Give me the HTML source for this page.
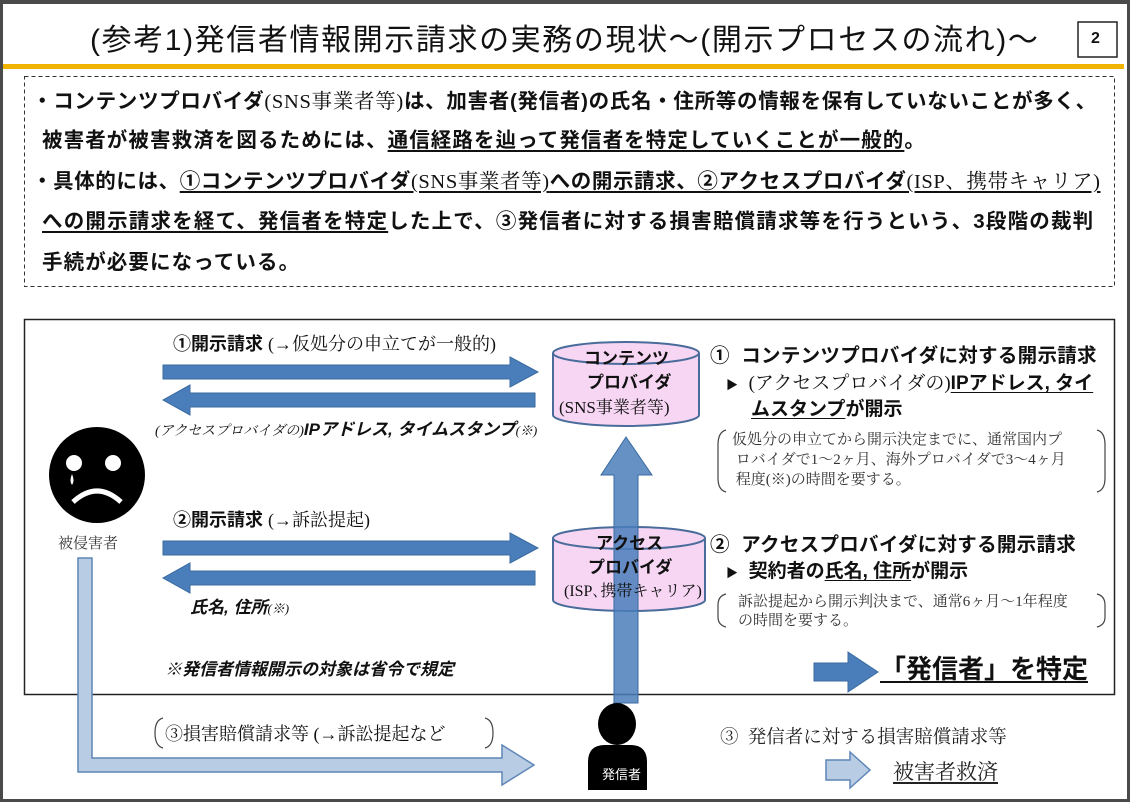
<!DOCTYPE html>
<html><head><meta charset="utf-8"><style>
*{margin:0;padding:0;box-sizing:border-box}
body{width:1130px;height:802px;overflow:hidden;background:#fff;position:relative;font-family:"Liberation Sans","Noto Sans CJK JP",sans-serif;color:#111}
.t{position:absolute;white-space:nowrap;line-height:1}
.b{font-weight:bold}
.s{font-family:"Liberation Serif","Noto Serif CJK SC",serif}
.u{text-decoration:underline;text-underline-offset:3px}
.i{font-style:italic}
.m{letter-spacing:1.1px}
</style></head><body>
<svg width="1130" height="802" style="position:absolute;left:0;top:0">
<rect x="0" y="0" width="1130" height="802" fill="none" stroke="#4a4a4a" stroke-width="6"/>
<rect x="0" y="0" width="1130" height="4" fill="#4a4a4a"/>
<rect x="1078" y="22" width="39" height="35" fill="#fff" stroke="#222" stroke-width="1.5"/>
<rect x="3" y="64" width="1121" height="5" fill="#f0b400"/>
<rect x="24.5" y="76.5" width="1090" height="210" fill="none" stroke="#333" stroke-dasharray="4,3"/>
<rect x="24.5" y="319.5" width="1090" height="375" fill="none" stroke="#222" stroke-width="1.5"/>
<g fill="#4a7ebb" stroke="#3a6aa0" stroke-width="1">
<polygon points="163,365 510,365 510,357 538,372 510,387 510,379 163,379"/>
<polygon points="535,393 190,393 190,385 163,400 190,415 190,407 535,407"/>
<polygon points="163,541 510,541 510,533 538,548 510,563 510,555 163,555"/>
<polygon points="535,571 190,571 190,563 163,578 190,593 190,585 535,585"/>
<polygon points="814,663 848,663 848,652 878,672 848,692 848,681 814,681"/>
</g>
<g fill="#f6d6f3" stroke="#4a6c9a" stroke-width="2">
<path d="M553,353 L553,415 A73,11 0 0 0 699,415 L699,353"/>
<ellipse cx="626" cy="353" rx="73" ry="11"/>
<path d="M553,538 L553,600 A76,11 0 0 0 705,600 L705,538"/>
<ellipse cx="629" cy="538" rx="76" ry="11"/>
</g>
<polygon points="614,703 614,475 601,475 626,437 652,475 638,475 638,703" fill="#4a7ebb" fill-opacity="0.85" stroke="#3a6aa0"/>
<polygon points="78,558 92,558 92,758 502,758 502,745 534,765 502,785 502,772 78,772" fill="#b8cce4" stroke="#5f86b8" stroke-width="1.5"/>
<polygon points="826,760 850,760 850,752 870,770 850,788 850,780 826,780" fill="#b8cce4" stroke="#5f86b8" stroke-width="1.5"/>
<circle cx="97" cy="475" r="48" fill="#000"/>
<circle cx="74" cy="463" r="8" fill="#fff"/>
<circle cx="113" cy="463" r="8" fill="#fff"/>
<path d="M72,474 Q69,481 72,485 Q75,481 72,474Z" fill="#fff"/>
<path d="M73,502 Q97,480 121,502" fill="none" stroke="#fff" stroke-width="5"/>
<ellipse cx="617" cy="724" rx="19" ry="21" fill="#000"/>
<path d="M588,790 L588,762 Q588,745 605,745 L630,745 Q647,745 647,762 L647,790Z" fill="#000"/>
<g fill="none" stroke="#444" stroke-width="1.2">
<path d="M726,430 Q718,432 718,445 L718,478 Q718,490 726,492"/>
<path d="M1097,430 Q1105,432 1105,445 L1105,478 Q1105,490 1097,492"/>
<path d="M726,594 Q718,596 718,605 L718,617 Q718,625 726,627"/>
<path d="M1097,594 Q1105,596 1105,605 L1105,617 Q1105,625 1097,627"/>
<path d="M163,718 Q155,720 155,733 Q155,746 163,748"/>
<path d="M485,718 Q493,720 493,733 Q493,746 485,748"/>
</g>
</svg>
<div class="t" style="left:90px;top:26px;font-size:30px;letter-spacing:1.6px">(参考1)発信者情報開示請求の実務の現状～(開示プロセスの流れ)～</div>
<div class="t b" style="left:1091px;top:31px;font-size:16px">2</div>

<div class="t b" style="left:32px;top:92px;font-size:20.5px;letter-spacing:0.7px">・コンテンツプロバイダ<span class="s" style="font-weight:normal">(SNS事業者等)</span>は、加害者(発信者)の氏名・住所等の情報を保有していないことが多く、</div>
<div class="t b m" style="left:42px;top:131px;font-size:20.5px">被害者が被害救済を図るためには、<span class="u">通信経路を辿って発信者を特定していくことが一般的</span>。</div>
<div class="t b" style="left:32px;top:172px;font-size:20.5px;letter-spacing:0.6px">・具体的には、<span class="u">①コンテンツプロバイダ<span class="s" style="font-weight:normal">(SNS事業者等)</span>への開示請求、②アクセスプロバイダ<span class="s" style="font-weight:normal">(ISP、携帯キャリア)</span></span></div>
<div class="t b" style="left:42px;top:212px;font-size:20.5px;letter-spacing:1.2px"><span class="u">への開示請求を経て、発信者を特定</span>した上で、③発信者に対する損害賠償請求等を行うという、3段階の裁判</div>
<div class="t b m" style="left:42px;top:253px;font-size:20.5px">手続が必要になっている。</div>

<div class="t" style="left:173px;top:335px;font-size:18px"><b>①開示請求</b> <span class="s">(→仮処分の申立てが一般的)</span></div>
<div class="t i" style="left:155px;top:421px;font-size:17px"><span class="s" style="font-size:14px">(アクセスプロバイダの)</span><b>IPアドレス, タイムスタンプ</b><span class="s" style="font-size:13px">(※)</span></div>
<div class="t" style="left:173px;top:511px;font-size:18px"><b>②開示請求</b> <span class="s">(→訴訟提起)</span></div>
<div class="t i b" style="left:190px;top:599px;font-size:17px">氏名, 住所<span class="s" style="font-size:13px;font-weight:normal">(※)</span></div>
<div class="t i b" style="left:165px;top:661px;font-size:17px">※発信者情報開示の対象は省令で規定</div>
<div class="t s" style="left:58px;top:537px;font-size:15px;color:#333">被侵害者</div>
<div class="t s" style="left:165px;top:725px;font-size:18px">③損害賠償請求等 (→訴訟提起など</div>

<div class="t b" style="left:584px;top:350px;font-size:17px">コンテンツ</div>
<div class="t b" style="left:587px;top:374px;font-size:17px">プロバイダ</div>
<div class="t s" style="left:559px;top:399px;font-size:17px">(SNS事業者等)</div>
<div class="t b" style="left:596px;top:535px;font-size:17px">アクセス</div>
<div class="t b" style="left:588px;top:559px;font-size:17px">プロバイダ</div>
<div class="t s" style="left:564px;top:584px;font-size:16px">(ISP､携帯キャリア)</div>
<div class="t" style="left:602px;top:768px;font-size:13px;color:#fff">発信者</div>

<div class="t b" style="left:710px;top:347px;font-size:19.5px;letter-spacing:0.3px">①&nbsp; コンテンツプロバイダに対する開示請求</div>
<div class="t" style="left:726px;top:374px;font-size:19px"><span style="font-size:12px">▶</span>&nbsp; <span class="s">(アクセスプロバイダの)</span><b class="u">IPアドレス, タイ</b></div>
<div class="t b" style="left:751px;top:400px;font-size:19px"><span class="u">ムスタンプ</span>が開示</div>
<div class="t s" style="left:732px;top:430px;font-size:15px;line-height:20px;color:#333">仮処分の申立てから開示決定までに、通常国内プ<br>&nbsp;ロバイダで1～2ヶ月、海外プロバイダで3～4ヶ月<br>&nbsp;程度(※)の時間を要する。</div>
<div class="t b" style="left:710px;top:536px;font-size:19.5px;letter-spacing:0.3px">②&nbsp; アクセスプロバイダに対する開示請求</div>
<div class="t b" style="left:726px;top:562px;font-size:19px"><span style="font-size:12px">▶</span>&nbsp; 契約者の<span class="u">氏名, 住所</span>が開示</div>
<div class="t s" style="left:738px;top:593px;font-size:15px;line-height:19px;color:#333">訴訟提起から開示判決まで、通常6ヶ月～1年程度<br>の時間を要する。</div>
<div class="t b u" style="left:880px;top:656px;font-size:26px">「発信者」を特定</div>
<div class="t s" style="left:720px;top:729px;font-size:18.5px;color:#222">③&nbsp; 発信者に対する損害賠償請求等</div>
<div class="t s u" style="left:893px;top:762px;font-size:21px;color:#222">被害者救済</div>
</body></html>
